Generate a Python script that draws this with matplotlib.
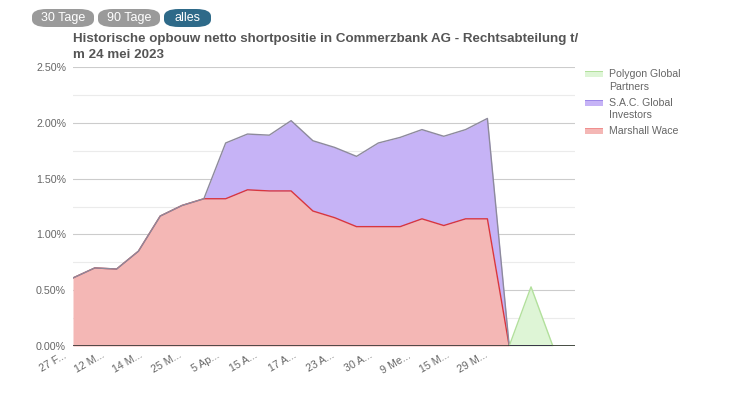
import numpy as np
import matplotlib.pyplot as plt
import matplotlib.transforms as mtransforms
from matplotlib.patches import FancyBboxPatch

# data (percent of shares)
tick_labels = ['27 F...', '12 M...', '14 M...', '25 M...', '5 Ap...', '15 A...',
               '17 A...', '23 A...', '30 A...', '9 Me...', '15 M...', '29 M...']
marshall = [0.61, 0.70, 0.69, 0.85, 1.165, 1.26, 1.32, 1.32, 1.40, 1.39, 1.39, 1.21,
            1.15, 1.07, 1.07, 1.07, 1.14, 1.08, 1.14, 1.14, 0, 0, 0, 0]
sac = [0, 0, 0, 0, 0, 0, 0, 0.50, 0.50, 0.50, 0.63, 0.63,
       0.63, 0.63, 0.75, 0.80, 0.80, 0.80, 0.80, 0.90, 0, 0, 0, np.nan]
polygon = [np.nan] * 20 + [0, 0.53, 0, 0]
names = ['Polygon Global\nPartners', 'S.A.C. Global\nInvestors', 'Marshall Wace']

x = np.arange(len(marshall))
mw = np.array(marshall)
top_sac = mw + np.array(sac)
top_poly = np.nan_to_num(top_sac[:len(polygon)]) + np.array(polygon)

fig = plt.figure(figsize=(7.41, 3.99), dpi=100)
plt.rcParams['font.family'] = ['Liberation Sans', 'DejaVu Sans']
ax = fig.add_axes([0.0985, 0.1328, 0.677, 0.699])

red_fill, red_line = '#f4b7b5', '#d9363e'
pur_fill, pur_line = '#c6b3f6', '#3a2ca6'
grn_fill, grn_line = '#def5d6', '#b2e09c'

ax.fill_between(x, 0, mw, color=red_fill, lw=0, zorder=2)
ax.fill_between(x, mw, top_sac, color=pur_fill, lw=0, zorder=2)
ax.fill_between(x, 0, top_poly, where=~np.isnan(top_poly), color=grn_fill, lw=0, zorder=2)

ax.plot(x[:21], mw[:21], color=red_line, lw=1, zorder=3)
ax.plot(x[:21], top_sac[:21], color='#8d8a9c', lw=1, zorder=4)
ax.plot(x[20:23], top_sac[20:23], color=pur_line, lw=1.2, zorder=4)
ax.plot(x[20:], top_poly[20:], color=grn_line, lw=1, zorder=5)
ax.plot(x[22:], top_poly[22:], color='#8fcf7a', lw=1, zorder=5)

ax.set_xlim(0, 23)
ax.set_ylim(0, 2.5)
ax.set_yticks(np.arange(0, 2.51, 0.5))
ax.set_yticks(np.arange(0.25, 2.5, 0.5), minor=True)
ax.set_yticklabels(['%.2f%%' % v for v in np.arange(0, 2.51, 0.5)])
ax.grid(axis='y', which='major', color='#cccccc', lw=0.8, zorder=1)
ax.grid(axis='y', which='minor', color='#ebebeb', lw=0.8, zorder=1)
ax.axhline(0, color='#333333', lw=1.2, zorder=6)

ax.set_xticks(np.arange(12) * 1.757)
ax.set_xticklabels(tick_labels, rotation=30, ha='right', rotation_mode='anchor')
ax.tick_params(axis='both', which='both', length=0, labelsize=7.7, labelcolor='#666666')
ax.tick_params(axis='x', pad=3)
ax.tick_params(axis='y', pad=5)
shift = mtransforms.ScaledTranslation(-10 / 100, 0, fig.dpi_scale_trans)
for lbl in ax.get_xticklabels():
    lbl.set_transform(lbl.get_transform() + shift)
for s in ax.spines.values():
    s.set_visible(False)

fig.text(0.0985, 0.882, 'Historische opbouw netto shortpositie in Commerzbank AG - Rechtsabteilung t/\nm 24 mei 2023',
         fontsize=9.65, fontweight='bold', color='#555555', va='center', linespacing=1.4)

# range buttons
for label, x0, x1, col in [('30 Tage', 32, 94, '#9a9a9a'), ('90 Tage', 98, 160, '#9a9a9a'),
                           ('alles', 164, 211, '#2e6a89')]:
    fig.patches.append(FancyBboxPatch((x0 / 741, 1 - 27 / 399), (x1 - x0) / 741, 18 / 399,
                                      boxstyle='round,pad=0,rounding_size=0.02',
                                      mutation_aspect=741 / 399 * 0.5,
                                      transform=fig.transFigure, fc=col, ec='none'))
    fig.text((x0 + x1) / 2 / 741, 1 - 18 / 399, label, ha='center', va='center',
             fontsize=9, color='white')

# legend
for i, (nm, col, lc) in enumerate(zip(names, [grn_fill, pur_fill, red_fill],
                                       [grn_line, '#9d88e8', '#f08f8f'])):
    y = 1 - (74 + 28.5 * i) / 399
    fig.patches.append(plt.Rectangle((585 / 741, y - 0.008), 18 / 741, 0.014,
                                     transform=fig.transFigure, fc=col, ec='none'))
    fig.patches.append(plt.Rectangle((585 / 741, y + 0.004), 18 / 741, 0.003,
                                     transform=fig.transFigure, fc=lc, ec='none'))
    fig.text(609 / 741, y + 0.012, nm, fontsize=7.6, color='#666666', va='top', linespacing=1.3)

fig.savefig('out.png', dpi=100)
